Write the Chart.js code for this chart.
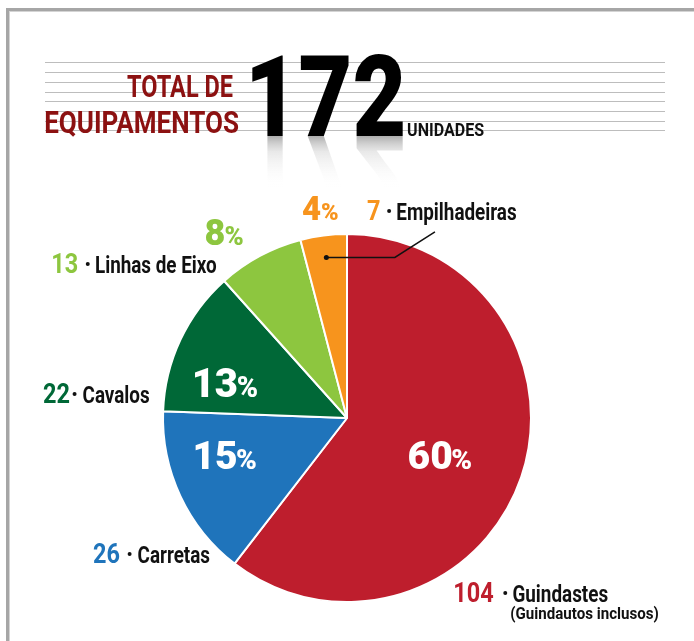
<!DOCTYPE html>
<html>
<head>
<meta charset="utf-8">
<script src="https://cdn.jsdelivr.net/npm/chart.js@4/dist/chart.umd.min.js"></script>
<style>
  html, body { margin: 0; padding: 0; background: #fff; overflow: hidden; }
  canvas { display: block; }
</style>
</head>
<body>
<canvas id="pie" width="694" height="641"></canvas>
<script>
// data
const categories = ['Guindastes', 'Carretas', 'Cavalos', 'Linhas de Eixo', 'Empilhadeiras'];
const units = [104, 26, 22, 13, 7];
const titleLines = ['TOTAL DE', 'EQUIPAMENTOS'];
const unitWord = 'UNIDADES';
const notes = ['(Guindautos inclusos)', '', '', '', ''];

// style
const colors = ['#be1e2d', '#1f74bb', '#006837', '#8dc63f', '#f7941d'];
const FONT = 'Roboto, "Noto Sans", sans-serif';
const pctInside = [true, true, true, false, false];
const pctSize = [39, 39, 40, 36, 33];
// label anchors, in units of the pie radius from its centre
const pctPos = [[0.514, 0.277], [-0.644, 0.277], [-0.644, -0.114], [-0.66, -0.94], [-0.144, -1.076]];
const catPos = [[0.587, 1.0], [-1.38, 0.788], [-1.652, -0.082], [-1.598, -0.788], [0.109, -1.076]];
const dotGap = [12, 10, 5, 10, 9];

const total = units.reduce((a, b) => a + b, 0);

// draws text with horizontal squeeze; width = target ink width (or sx factor)
function squeezeText(ctx, s, x, y, size, weight, color, opt) {
  ctx.save();
  ctx.font = `${weight} ${size}px ${FONT}`;
  const m = ctx.measureText(s);
  const inkL = -m.actualBoundingBoxLeft, inkR = m.actualBoundingBoxRight;
  const sx = opt.width ? opt.width / (inkR - inkL) : (opt.sx || 1);
  const x0 = opt.align === 'right' ? x - inkR * sx : x - inkL * sx;
  ctx.translate(x0, y);
  ctx.scale(sx, 1);
  ctx.fillStyle = color;
  ctx.textAlign = 'left';
  ctx.textBaseline = 'alphabetic';
  ctx.fillText(s, 0, 0);
  ctx.restore();
  return { left: x0 + inkL * sx, right: x0 + inkR * sx };
}

function drawHeader(ctx) {
  // frame
  ctx.fillStyle = '#a6a6a6';
  ctx.fillRect(6, 8, 700, 3);
  ctx.fillRect(6, 8, 3, 700);
  ctx.fillStyle = '#d4d4d4';
  ctx.fillRect(9, 11, 700, 1);
  ctx.fillRect(9, 11, 1, 700);

  // ruled lines
  ctx.strokeStyle = '#bdbdbd';
  ctx.lineWidth = 1;
  [62, 72, 82, 92, 101, 111, 121, 130].forEach(y => {
    ctx.beginPath(); ctx.moveTo(45, y + 0.5); ctx.lineTo(665, y + 0.5); ctx.stroke();
  });

  squeezeText(ctx, titleLines[0], 233, 97, 32, 'bold', '#8c1111', { width: 106, align: 'right' });
  squeezeText(ctx, titleLines[1], 238, 133, 31, 'bold', '#8c1111', { width: 193, align: 'right' });

  // reflection of the total
  const off = document.createElement('canvas');
  off.width = 200; off.height = 60;
  const o = off.getContext('2d');
  o.save();
  o.scale(1, -1);
  squeezeText(o, String(total), 2, 0, 114, 900, '#000', { width: 151 });
  o.restore();
  o.globalCompositeOperation = 'source-in';
  const g = o.createLinearGradient(0, 0, 0, 52);
  g.addColorStop(0, 'rgba(120,120,120,0.6)');
  g.addColorStop(0.3, 'rgba(190,190,190,0.35)');
  g.addColorStop(1, 'rgba(255,255,255,0)');
  o.fillStyle = g;
  o.fillRect(0, 0, 200, 60);
  ctx.drawImage(off, 250, 136);

  squeezeText(ctx, String(total), 252, 136, 114, 900, '#000', { width: 151 });
  squeezeText(ctx, unitWord, 408, 136, 18, 'bold', '#111', { width: 76 });
}

const labelPlugin = {
  id: 'labels',
  beforeDraw(chart) { drawHeader(chart.ctx); },
  afterDraw(chart) {
    const ctx = chart.ctx;
    const arcs = chart.getDatasetMeta(0).data;
    const cx = arcs[0].x, cy = arcs[0].y, R = arcs[0].outerRadius;

    arcs.forEach((arc, i) => {
      // percentage
      const pct = String(Math.round(units[i] / total * 100));
      const size = pctSize[i];
      const col = pctInside[i] ? '#fff' : colors[i];
      const sx = 1.0, pcSize = size * 0.72;
      ctx.save();
      ctx.font = `900 ${size}px ${FONT}`;
      const wNum = ctx.measureText(pct).width * sx;
      ctx.font = `900 ${pcSize}px ${FONT}`;
      const wPc = ctx.measureText('%').width * sx;
      ctx.restore();
      const gx = cx + pctPos[i][0] * R - (wNum + wPc) / 2;
      const gy = cy + pctPos[i][1] * R;
      const r1 = squeezeText(ctx, pct, gx, gy, size, 900, col, { sx });
      squeezeText(ctx, '%', r1.right + 1, gy, pcSize, 900, col, { sx });

      // category label
      const lx = cx + catPos[i][0] * R, ly = cy + catPos[i][1] * R;
      const n = squeezeText(ctx, String(units[i]), lx, ly, 27, 'bold', colors[i], { sx: 0.87 });
      const dx = n.right + dotGap[i];
      ctx.beginPath();
      ctx.arc(dx, ly - 9, 2, 0, Math.PI * 2);
      ctx.fillStyle = '#111';
      ctx.fill();
      squeezeText(ctx, categories[i], dx + 8, ly, 23, 'bold', '#111', { sx: 0.82 });
      if (notes[i]) {
        squeezeText(ctx, notes[i], dx + 5, ly + 17, 16, 'bold', '#111', { width: 148 });
      }
    });

    // leader line for the smallest slice
    const last = arcs[arcs.length - 1];
    const mid = (last.startAngle + last.endAngle) / 2;
    const px = cx + Math.cos(mid) * R * 0.88, py = cy + Math.sin(mid) * R * 0.88;
    ctx.save();
    ctx.strokeStyle = '#111';
    ctx.lineWidth = 1.5;
    ctx.beginPath();
    ctx.moveTo(px, py);
    ctx.lineTo(cx + 0.26 * R, py);
    ctx.lineTo(cx + 0.478 * R, cy - 1.011 * R);
    ctx.stroke();
    ctx.beginPath();
    ctx.arc(px, py, 2.5, 0, Math.PI * 2);
    ctx.fillStyle = '#111';
    ctx.fill();
    ctx.restore();
  }
};

new Chart(document.getElementById('pie'), {
  type: 'pie',
  data: {
    labels: categories,
    datasets: [{
      data: units,
      backgroundColor: colors,
      borderColor: '#fff',
      borderWidth: 2,
    }],
  },
  options: {
    responsive: false,
    devicePixelRatio: 1,
    animation: false,
    layout: { padding: { top: 233, bottom: 38, left: 162, right: 162 } },
    plugins: { legend: { display: false }, tooltip: { enabled: false } },
  },
  plugins: [labelPlugin],
});
</script>
</body>
</html>
